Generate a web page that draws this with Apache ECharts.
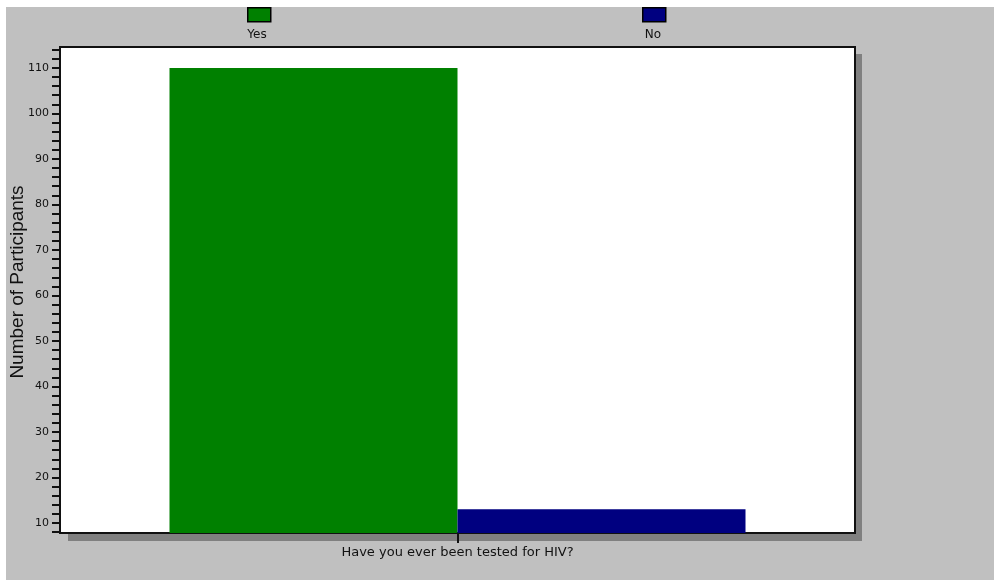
<!DOCTYPE html>
<html>
<head>
<meta charset="utf-8">
<script src="https://cdn.jsdelivr.net/npm/echarts@6/dist/echarts.min.js"></script>
<style>
  html, body { margin: 0; padding: 0; background: #ffffff; }
  #chart { width: 994px; height: 580px; }
</style>
</head>
<body>
<div id="chart"></div>
<script>
// ---- data ----
const categories = ['Have you ever been tested for HIV?'];
const seriesNames = ['Yes', 'No'];
const yesValues = [110];
const noValues = [13];
const yLabelValues = [10, 20, 30, 40, 50, 60, 70, 80, 90, 100, 110];
const yTickValues = [8, 10, 12, 14, 16, 18, 20, 22, 24, 26, 28, 30, 32, 34, 36, 38, 40, 42, 44, 46, 48, 50, 52, 54, 56, 58, 60, 62, 64, 66, 68, 70, 72, 74, 76, 78, 80, 82, 84, 86, 88, 90, 92, 94, 96, 98, 100, 102, 104, 106, 108, 110, 112, 114];
const yTitle = 'Number of Participants';

const FONT = '"DejaVu Sans", "Liberation Sans", Arial, sans-serif';
const FONT2 = '"Liberation Sans", Arial, sans-serif';
const colors = ['#008000', '#000080'];

const chart = echarts.init(document.getElementById('chart'), null, { renderer: 'canvas' });

const option = {
  animation: false,
  backgroundColor: '#ffffff',
  graphic: [
    { type: 'rect', z: -100, silent: true,
      shape: { x: 6, y: 7, width: 994, height: 580 },
      style: { fill: '#c0c0c0' } },
    { type: 'rect', z: -90, silent: true,
      shape: { x: 68, y: 54, width: 794, height: 487 },
      style: { fill: '#808080' } },
    { type: 'text', z: 10, x: 18, y: 282, rotation: Math.PI / 2,
      style: { text: yTitle, font: '19px ' + FONT2, fill: '#111111',
               textAlign: 'center', textVerticalAlign: 'middle' } },
    { type: 'text', z: 10, x: 257, y: 35,
      style: { text: seriesNames[0], font: '12px ' + FONT, fill: '#111111',
               textAlign: 'center', textVerticalAlign: 'middle' } },
    { type: 'text', z: 10, x: 653, y: 35,
      style: { text: seriesNames[1], font: '12px ' + FONT, fill: '#111111',
               textAlign: 'center', textVerticalAlign: 'middle' } }
  ],
  legend: [
    { data: [seriesNames[0]], left: 247, top: 7, padding: 0, itemWidth: 23, itemHeight: 14,
      icon: 'rect', formatter: () => '', selectedMode: false,
      itemStyle: { borderColor: '#000', borderWidth: 1.5 } },
    { data: [seriesNames[1]], left: 642, top: 7, padding: 0, itemWidth: 23, itemHeight: 14,
      icon: 'rect', formatter: () => '', selectedMode: false,
      itemStyle: { borderColor: '#000', borderWidth: 1.5 } }
  ],
  grid: {
    left: 60, top: 47, right: 139, bottom: 47,
    show: true, backgroundColor: '#ffffff',
    borderColor: '#111111', borderWidth: 2
  },
  xAxis: {
    type: 'category',
    data: categories,
    axisLine: { show: true, lineStyle: { color: '#111111', width: 2 } },
    axisTick: { show: true, alignWithLabel: true, length: 10, lineStyle: { color: '#111111', width: 2 } },
    axisLabel: { margin: 13, fontSize: 13, fontFamily: FONT, color: '#111111' },
    splitLine: { show: false }
  },
  yAxis: {
    type: 'value',
    min: 7.8, max: 114.6,
    axisLine: { show: true, lineStyle: { color: '#111111', width: 2 } },
    axisTick: { show: true, length: 8, customValues: yTickValues, lineStyle: { color: '#111111', width: 2 } },
    axisLabel: { margin: 11, fontSize: 11, fontFamily: FONT, color: '#111111', customValues: yLabelValues },
    splitLine: { show: false }
  },
  series: [
    { name: seriesNames[0], type: 'bar', data: yesValues, barWidth: 288, barGap: '0%',
      itemStyle: { color: colors[0] } },
    { name: seriesNames[1], type: 'bar', data: noValues, barWidth: 288, barGap: '0%',
      itemStyle: { color: colors[1] } }
  ]
};

chart.setOption(option);
</script>
</body>
</html>
